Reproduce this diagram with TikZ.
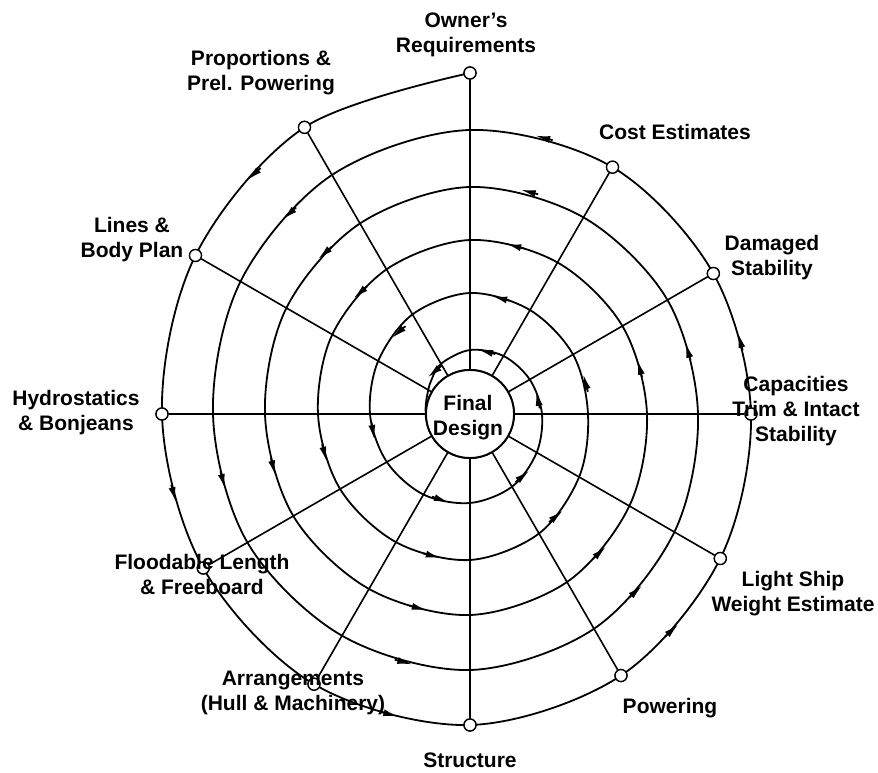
\documentclass[tikz,border=0pt]{standalone}
\usepackage{fontspec}
\setmainfont{Liberation Sans}
\usetikzlibrary{arrows.meta}
\begin{document}
\begin{tikzpicture}[x=1pt,y=1pt,
  spiralline/.style={line width=1.8pt, line join=round, line cap=round},
  spoke/.style={line width=1.6pt},
  station/.style={circle, draw, fill=white, line width=1.3pt, inner sep=0pt, minimum size=12pt},
  lbl/.style={font=\bfseries\fontsize{21}{25}\selectfont, align=center, inner sep=0pt},
  flowtip/.style={line width=1.8pt, -{Latex[length=15pt,width=7pt]}}]
\useasboundingbox (-470,-359) rectangle (408,414);

% centre
\node[circle, draw, line width=1.9pt, minimum size=88pt, inner sep=0pt] (fd) at (0,0) {};

% stations on the outer turn of the spiral
\node[station] (owner)  at (90:341) {};
\node[station] (prop)   at (120:331) {};
\node[station] (lines)  at (150:317) {};
\node[station] (hydro)  at (180:308) {};
\node[station] (flood)  at (210:308) {};
\node[station] (arr)    at (240:312) {};
\node[station] (struct) at (270:311) {};
\node[station] (power)  at (300:302) {};
\node[station] (light)  at (330:289) {};
\node[station] (cap)    at (360:281) {};
\node[station] (dmg)    at (390:281) {};
\node[station] (cost)   at (420:285) {};

% spokes
\foreach \n in {owner,prop,lines,hydro,flood,arr,struct,power,light,cap,dmg,cost}
  \draw[spoke] (fd) -- (\n);

% the design spiral
\draw[spiralline] plot[smooth, tension=0.55] coordinates {
  (90:341) (120:331) (150:317) (180:308) (210:308) (240:312) (270:311) (300:302) (330:289) (360:281) (390:281) (420:285)
  (450:284) (480:276) (510:265) (540:257) (570:257) (600:256) (630:256) (660:248) (690:236) (720:228) (750:228) (780:227)
  (810:227) (840:220) (870:212) (900:205) (930:204) (960:202) (990:201) (1020:194) (1050:184) (1080:177) (1110:176) (1140:175)
  (1170:174) (1200:167) (1230:159) (1260:152) (1290:150) (1320:148) (1350:146) (1380:138) (1410:126) (1440:118) (1470:119) (1500:120)
  (1530:121) (1560:115) (1590:106) (1620:100) (1650:96) (1680:93) (1710:89) (1740:84) (1770:77) (1800:72) (1830:69) (1860:67)
  (1890:64) (1920:58) (1940:51) (1955:47) (1970:45) (1985:44.3)};

% direction arrows along the spiral
\foreach \a/\r in {132/323, 195/307, 255/311, 313/296, 375/280, 435/286,
                   492/270, 555/256, 615/257, 673/243, 736/227, 795/230,
                   852/217, 915/204, 975/201, 1033/190, 1095/176, 1155/174,
                   1212/164, 1275/151, 1335/147, 1390/134, 1455/120, 1515/120,
                   1571/109, 1630/99, 1691/91, 1750/82, 1812/70, 1875/65,
                   1930/56} {
  \pgfmathsetmacro\da{9/\r*57.2958}
  \draw[flowtip] ({\a-\da}:\r) -- ({\a+\da}:\r);
}

% stations and centre drawn over the lines
\foreach \n in {owner,prop,lines,hydro,flood,arr,struct,power,light,cap,dmg,cost}
  \node[station] at (\n) {};
\node[circle, draw, fill=white, line width=1.9pt, minimum size=88pt, inner sep=0pt] at (fd) {};
\node[lbl] (fdtext) at (-2,-4) {Final\\Design};

% labels
\node[lbl] (lowner)  at (-4,379)    {Owner’s\\Requirements};
\node[lbl] (lprop)   at (-209,341)  {Proportions \&\\Prel. Powering};
\node[lbl] (llines)  at (-338,174)  {Lines \&\\Body Plan};
\node[lbl] (lhydro)  at (-394,1)    {Hydrostatics\\\& Bonjeans};
\node[lbl] (lflood)  at (-268,-160) {Floodable Length\\\& Freeboard};
\node[lbl] (larr)    at (-177,-279) {Arrangements\\(Hull \& Machinery)};
\node[lbl] (lstruct) at (0,-346)    {Structure};
\node[lbl] (lpower)  at (200,-294)  {Powering};
\node[lbl] (llight)  at (323,-180)  {Light Ship\\Weight Estimate};
\node[lbl] (lcap)    at (326,3)     {Capacities\\Trim \& Intact\\Stability};
\node[lbl] (ldmg)    at (302,156)   {Damaged\\Stability};
\node[lbl] (lcost)   at (205,282)   {Cost Estimates};
\end{tikzpicture}
\end{document}
